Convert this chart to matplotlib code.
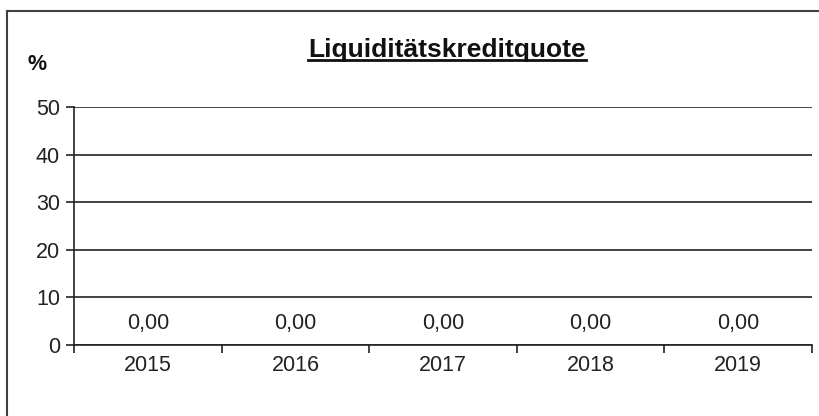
import matplotlib
matplotlib.use("Agg")
import matplotlib.pyplot as plt
from matplotlib.lines import Line2D

plt.rcParams['font.family'] = ['Liberation Sans', 'DejaVu Sans']

years = ["2015", "2016", "2017", "2018", "2019"]
values = [0.0, 0.0, 0.0, 0.0, 0.0]
yticks = [0, 10, 20, 30, 40, 50]
title = "Liquiditätskreditquote"
unit = "%"

W, H = 820, 416
fig = plt.figure(figsize=(W / 100, H / 100), dpi=100)

# outer frame (only top and left edges are inside the picture)
fx, fy = 7 / W, 1 - 11 / H
fig.lines.append(Line2D([fx, 1.01], [fy, fy], transform=fig.transFigure,
                        color='#404040', linewidth=1.5))
fig.lines.append(Line2D([fx, fx], [-0.01, fy], transform=fig.transFigure,
                        color='#404040', linewidth=1.5))

FS = 15.5
ax = fig.add_axes([74 / W, 1 - 345 / H, (812 - 74) / W, (345 - 107) / H])
x = list(range(len(years)))
ax.bar(x, values, width=0.6, color='#4472c4')
ax.set_xlim(-0.5, len(years) - 0.5)
ax.set_ylim(0, 50)
ax.set_yticks(yticks)
ax.set_yticklabels([str(v) for v in yticks], fontsize=FS, color='#222222')
ax.yaxis.grid(True, color='#222222', linewidth=1.2)
ax.set_axisbelow(True)
for s in ['top', 'right']:
    ax.spines[s].set_visible(False)
ax.spines['left'].set_color('#222222')
ax.spines['bottom'].set_color('#222222')
ax.spines['left'].set_linewidth(1.2)
ax.spines['bottom'].set_linewidth(1.2)
ax.tick_params(axis='y', length=6, width=1.2, color='#222222', pad=4)

# x ticks at category boundaries
ax.set_xticks([i - 0.5 for i in range(len(years) + 1)])
ax.set_xticklabels([])
ax.set_xticks(x, minor=True)
ax.set_xticklabels(years, minor=True, fontsize=FS, color='#222222')
ax.tick_params(axis='x', which='major', length=6, width=1.2, color='#222222', direction='out')
ax.tick_params(axis='x', which='minor', length=0, pad=7)

for xi, v in zip(x, values):
    ax.annotate(f"{v:.2f}".replace('.', ','), (xi, v), xytext=(0, 22), textcoords='offset pixels',
                ha='center', va='center', fontsize=FS, color='#222222')

t = fig.text(447 / W, 1 - 50 / H, title, ha='center', va='center', fontsize=19,
             fontweight='bold', color='#111111')
fig.text(37 / W, 1 - 64 / H, unit, ha='center', va='center', fontsize=FS,
         fontweight='bold', color='#111111')

fig.canvas.draw()
bb = t.get_window_extent().transformed(fig.transFigure.inverted())
fig.lines.append(Line2D([bb.x0, bb.x1], [bb.y0 + 0.006, bb.y0 + 0.006], transform=fig.transFigure,
                        color='#111111', linewidth=2))

fig.savefig("out.png", dpi=100)
